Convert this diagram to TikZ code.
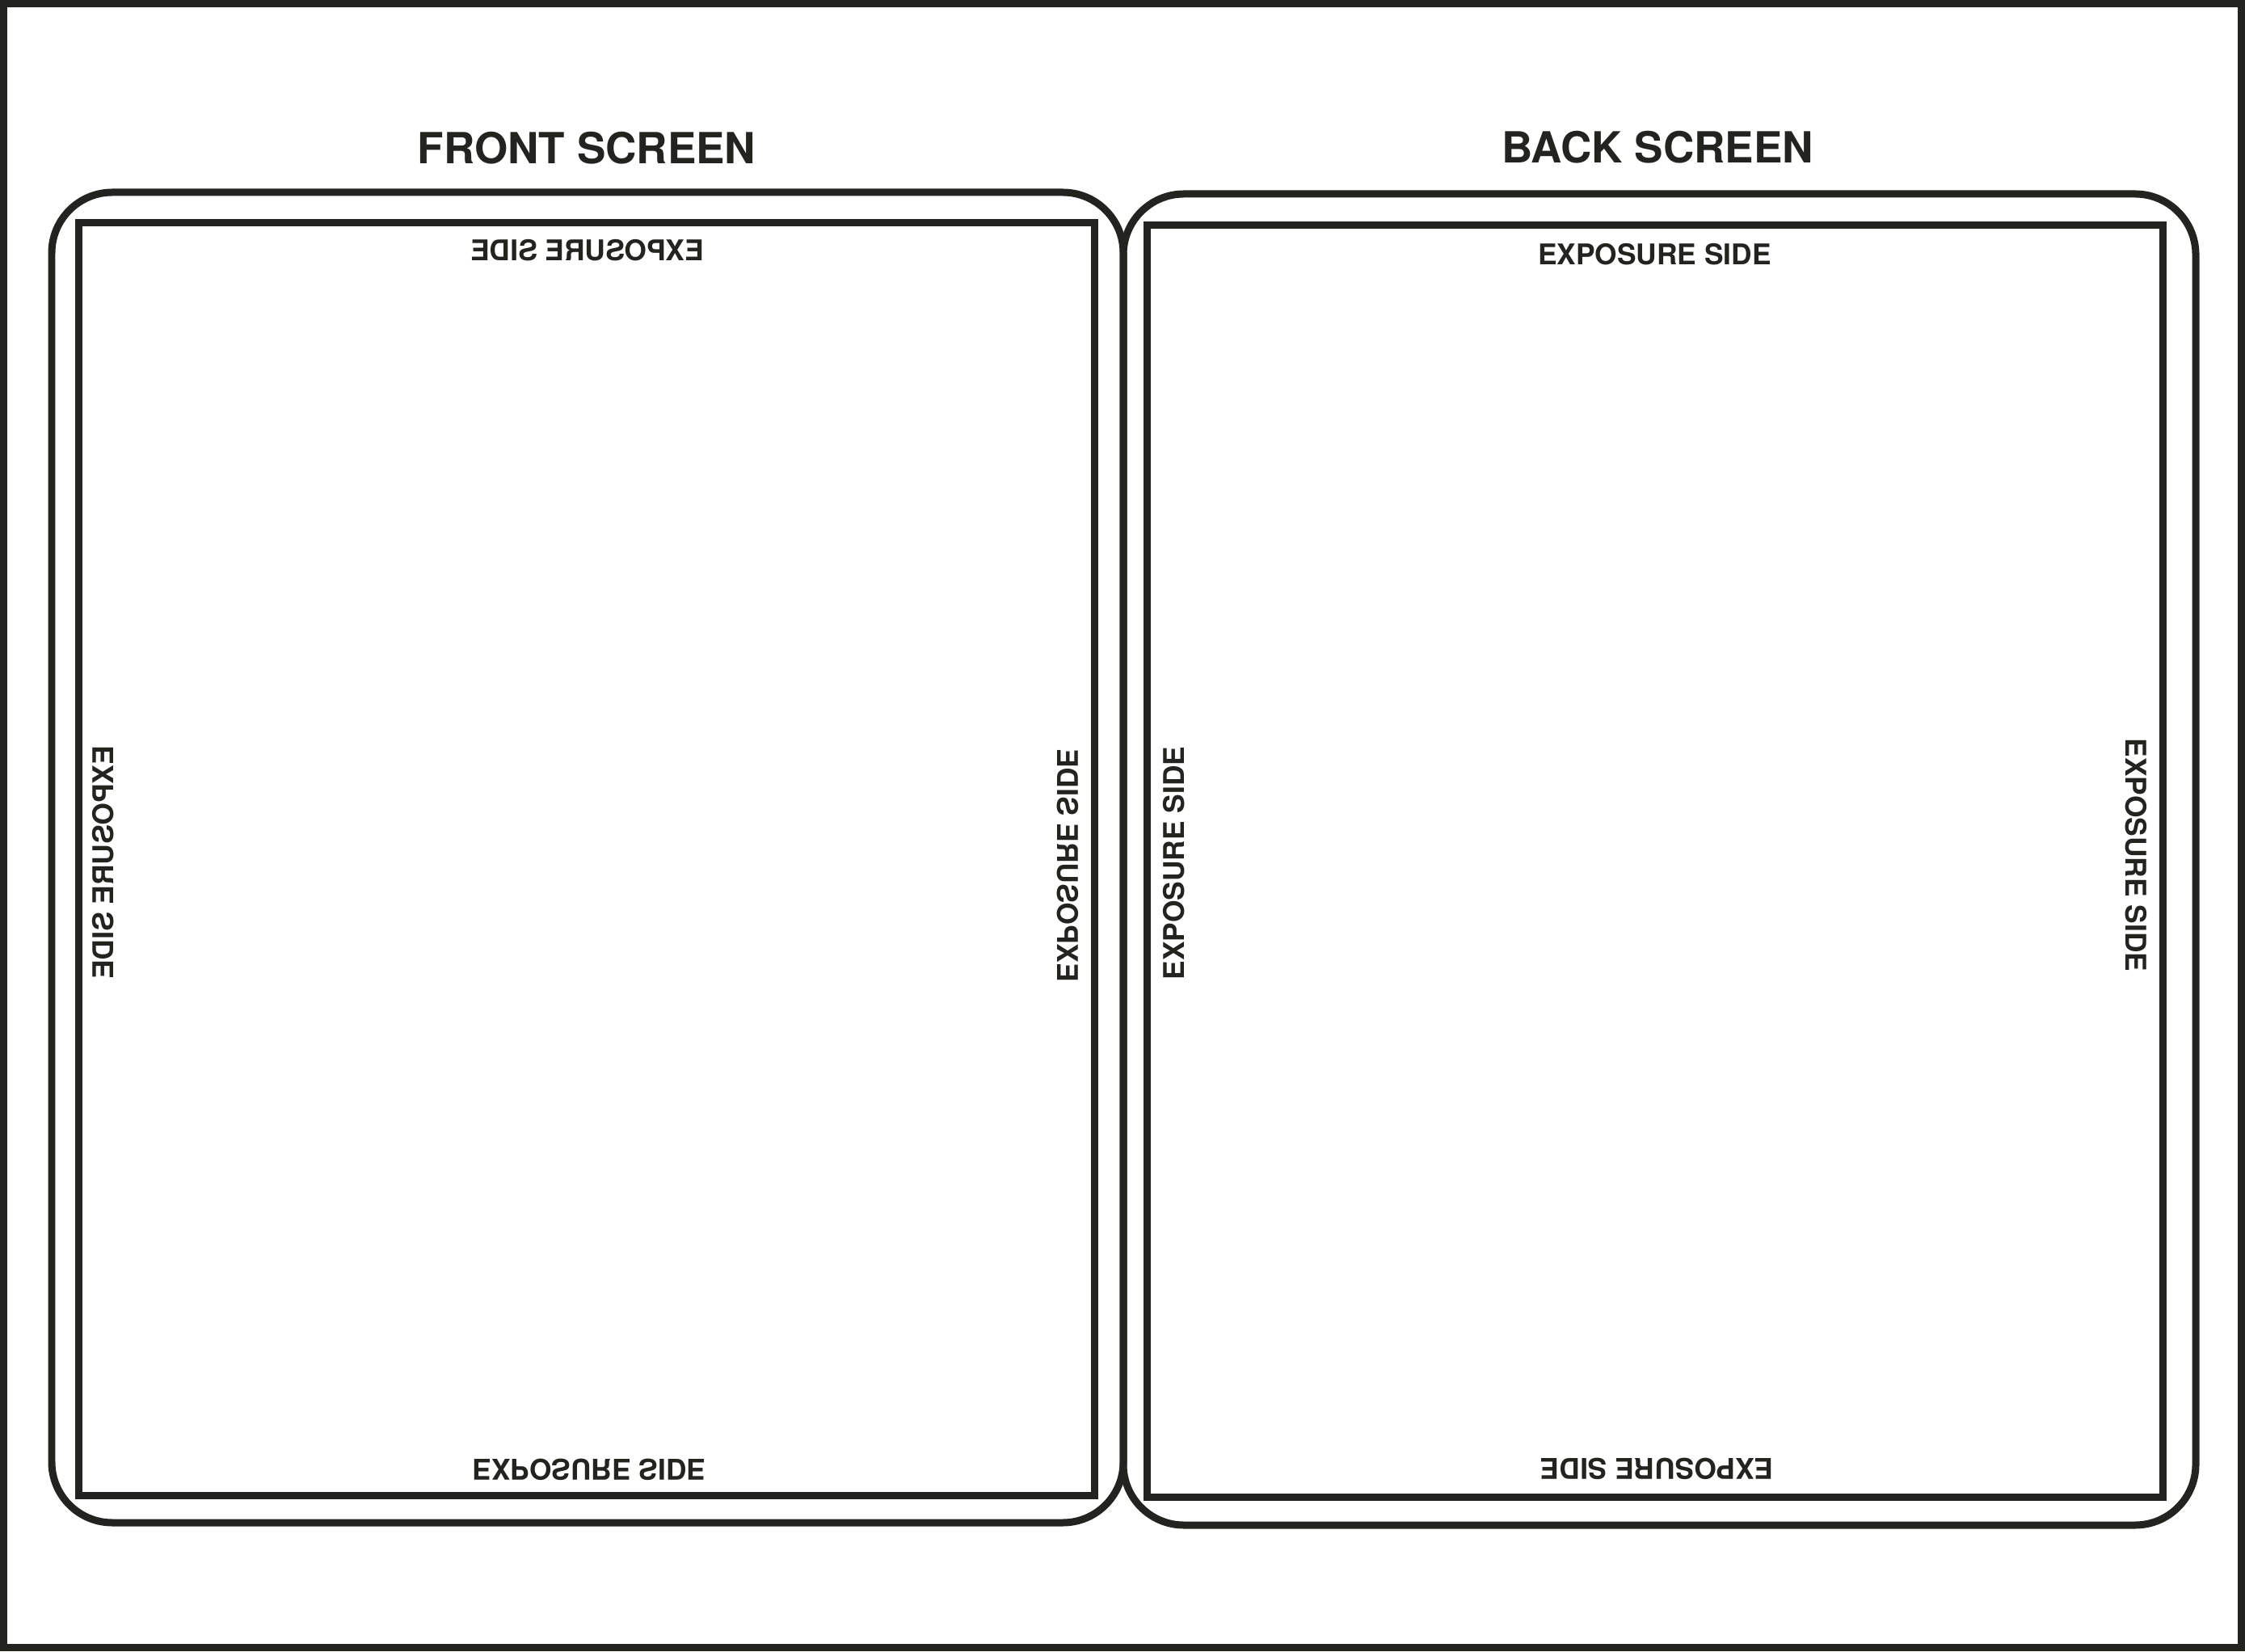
\documentclass[tikz,border=0pt]{standalone}
\usepackage{fontspec}
\setmainfont{TeX Gyre Heros}
\usepackage{xcolor}
\usepackage{tikz}
\definecolor{ink}{RGB}{35,35,32}

\begin{document}
\begin{tikzpicture}[
    frame/.style={ink, line width=2.56pt},
    screen/.style={ink, line width=2.56pt, rounded corners=0.75cm},
    sheet/.style={ink, line width=2.56pt},
    screentitle/.style={text=ink, font=\fontsize{15.1}{18}\selectfont\bfseries, inner sep=0pt, anchor=base},
    sidetext/.style={text=ink, font=\fontsize{10.05}{12}\selectfont\bfseries, inner sep=0pt, anchor=base, transform shape}]
  \useasboundingbox (0,0) rectangle (27.78,20.43);
  \draw[frame] (0.045,0.045) rectangle (27.735,20.385);
  % the two screens
  \draw[screen] (0.64,1.59) rectangle (13.90,18.05);
  \draw[screen] (13.90,1.56) rectangle (27.17,18.03);
  \draw[sheet] (0.975,1.93) rectangle (13.54,17.675);
  \draw[sheet] (14.19,1.91) rectangle (26.76,17.645);
  \node[screentitle] (front) at (7.26,18.40) {FRONT SCREEN};
  \node[screentitle] (back) at (20.51,18.41) {BACK SCREEN};
  % front screen, mirrored labels
  \node[sidetext, xscale=-1] (ftop) at (7.27,17.20) {EXPOSURE SIDE};
  \node[sidetext, yscale=-1] (fbottom) at (7.29,2.38) {EXPOSURE SIDE};
  \node[sidetext, rotate=-90, yscale=-1] (fleft) at (1.40,9.76) {EXPOSURE SIDE};
  \node[sidetext, rotate=90, yscale=-1] (fright) at (13.08,9.72) {EXPOSURE SIDE};
  % back screen
  \node[sidetext] (btop) at (20.475,17.15) {EXPOSURE SIDE};
  \node[sidetext, rotate=180] (bbottom) at (20.505,2.39) {EXPOSURE SIDE};
  \node[sidetext, rotate=90] (bleft) at (14.65,9.75) {EXPOSURE SIDE};
  \node[sidetext, rotate=-90] (bright) at (26.30,9.85) {EXPOSURE SIDE};
\end{tikzpicture}
\end{document}
